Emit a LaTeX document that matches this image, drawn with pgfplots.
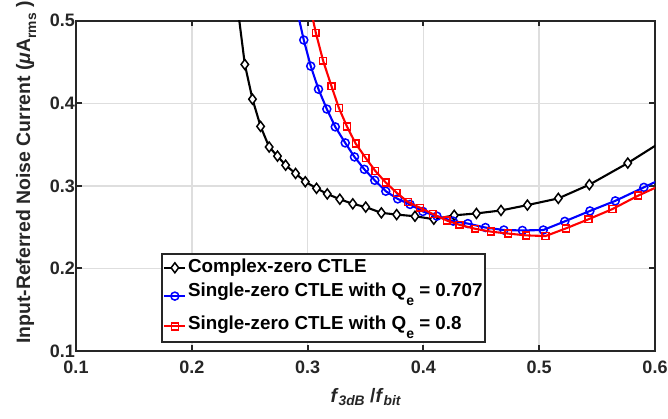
\documentclass[border=0pt]{standalone}
\usepackage{fontspec}
\setmainfont{Liberation Sans}
\usepackage{pgfplots}
\pgfplotsset{compat=1.18}
\definecolor{gridc}{RGB}{222,222,222}
\definecolor{axc}{RGB}{38,38,38}
\newcommand{\fs}{\fontsize{18.07}{21}\selectfont\bfseries}
\newcommand{\fl}{\fontsize{18.87}{22}\selectfont\bfseries}
\newcommand{\fx}{\fontsize{19.5}{23}\selectfont\bfseries}
\newcommand{\lsub}[1]{\raisebox{-9bp}[0pt][0pt]{\fontsize{14.05}{14}\selectfont\bfseries #1}}
\newcommand{\xsub}[1]{\raisebox{-3.5bp}{\fontsize{13.85}{14}\selectfont\bfseries\itshape #1}}
\newcommand{\ysub}[1]{\raisebox{-6bp}{\fontsize{13.85}{14}\selectfont\bfseries #1}}
\begin{document}
\begin{tikzpicture}
\useasboundingbox (0,0) rectangle (668bp,419bp);
\begin{axis}[
  at={(76bp,68bp)}, anchor=south west,
  scale only axis, width=579bp, height=330.3bp,
  xmin=0.1, xmax=0.6, ymin=0.1, ymax=0.5,
  xtick={0.1,0.2,0.3,0.4,0.5,0.6},
  xticklabels={0.1,0.2,0.3,0.4,0.5,0.6},
  ytick={0.1,0.2,0.3,0.4,0.5},
  yticklabels={0.1,0.2,0.3,0.4,0.5},
  tick align=inside, major tick length=5.8bp,
  grid=major, major grid style={gridc, line width=1.5bp},
  axis line style={axc, line width=2.2bp},
  tick style={axc, line width=2bp},
  tick label style={font=\fs, text=axc},
  xticklabel style={yshift=-6bp},
  yticklabel style={xshift=2.4bp},
  xlabel={\textit{f}\xsub{3dB} /\textit{f}\xsub{bit}},
  xlabel style={font=\fx, text=axc, at={(axis description cs:0.5,-0.1544)}, anchor=base},
  ylabel={Input-Referred Noise Current (\textit{μ}A\ysub{rms} )},
  ylabel style={font=\fx, text=axc, at={(axis description cs:-0.0794,0.54)}, anchor=base},
  clip marker paths=true,
  legend cell align=left,
  legend style={at={(axis description cs:0.1468,0.025)}, anchor=south west,
    draw=axc, line width=2bp, fill=white, font=\fl, text=black,
    inner xsep=1.3bp, inner ysep=4.5bp,
    nodes={inner xsep=1bp, inner ysep=0bp, text depth=},
    /tikz/row sep=6.5bp, /tikz/column sep=0.6bp},
  legend image code/.code={\draw[mark repeat=2,mark phase=2,#1] plot coordinates {(0bp,0bp) (10.5bp,0bp) (21bp,0bp)};},
]
\addplot[black, line width=2.1bp, mark=diamond*, mark size=5bp,
  mark options={solid, fill=white, draw=black, line width=1.5bp}] coordinates {
(0.2395,0.517) (0.2458,0.447) (0.2524,0.405) (0.2594,0.372) (0.2668,0.347)
(0.274,0.336) (0.281,0.325) (0.2896,0.315) (0.298,0.305) (0.3077,0.297)
(0.317,0.2902) (0.3278,0.2838) (0.339,0.2782) (0.3502,0.2743) (0.3637,0.2673)
(0.3769,0.2652) (0.3927,0.2632) (0.409,0.2596) (0.4266,0.2643) (0.4458,0.2666)
(0.467,0.2702) (0.4898,0.2767) (0.5165,0.2848) (0.5433,0.3014) (0.5765,0.3276)
(0.612,0.359)
};
\addlegendentry{\rule[-4bp]{0pt}{13.5bp}Complex-zero CTLE}
\addplot[blue, line width=2.1bp, mark=o, mark size=4bp,
  mark options={solid, fill=white, draw=blue, line width=1.5bp}] coordinates {
(0.2905,0.515) (0.2967,0.4766) (0.3027,0.445) (0.3094,0.417) (0.3166,0.393)
(0.3239,0.3714) (0.3325,0.352) (0.3405,0.335) (0.349,0.320) (0.358,0.3067)
(0.3675,0.2935) (0.3778,0.2842) (0.3885,0.2775) (0.3995,0.269) (0.4117,0.2633)
(0.4257,0.2573) (0.4384,0.2543) (0.4536,0.2495) (0.4695,0.2465) (0.4855,0.246)
(0.5035,0.2465) (0.5221,0.257) (0.5438,0.2696) (0.5657,0.2818) (0.5904,0.2982)
(0.615,0.3145)
};
\addlegendentry{\rule[-12.4bp]{0pt}{13.5bp}Single-zero CTLE with Q\lsub{e} = 0.707}
\addplot[red, line width=2.1bp, mark=square, mark size=3.4bp,
  mark options={solid, fill=white, draw=red, line width=1.5bp}] coordinates {
(0.301,0.525) (0.3071,0.4854) (0.3134,0.4515) (0.3206,0.4207) (0.327,0.3944)
(0.334,0.3718) (0.3415,0.3512) (0.3502,0.3337) (0.3585,0.318) (0.3675,0.304)
(0.377,0.2915) (0.3868,0.2803) (0.397,0.2735) (0.408,0.266) (0.4202,0.258)
(0.4312,0.2528) (0.4447,0.248) (0.4581,0.2446) (0.4733,0.2422) (0.4888,0.240)
(0.5055,0.2392) (0.5231,0.2485) (0.5425,0.2595) (0.5634,0.272) (0.5855,0.2882)
(0.611,0.3046)
};
\addlegendentry{\rule[-8bp]{0pt}{13.5bp}Single-zero CTLE with Q\lsub{e} = 0.8}
\end{axis}
\end{tikzpicture}
\end{document}
